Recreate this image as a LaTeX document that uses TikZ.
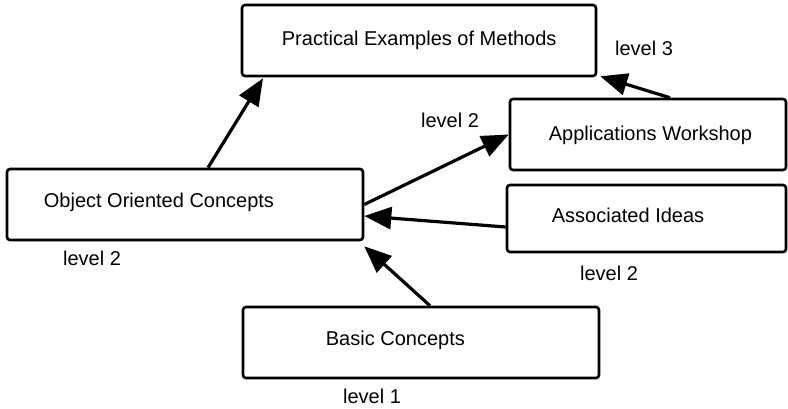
\documentclass[tikz,border=0pt]{standalone}
\usepackage{fontspec}
\setmainfont{Liberation Sans}
\usetikzlibrary{arrows.meta}

\begin{document}
\begin{tikzpicture}[x=1pt,y=-1pt,
  font=\fontsize{20}{24}\selectfont,
  box/.style={draw,rounded corners=3pt,line width=2.6pt,
    minimum height=71pt,inner sep=0pt},
  tag/.style={anchor=west,inner sep=0pt},
  link/.style={line width=3.2pt,-{Triangle[length=27pt,width=22pt]}}]

  \useasboundingbox (0,0) rectangle (788,408);

  \node[box,minimum width=354pt,label={[tag,xshift=41pt]west:Practical Examples of Methods}] (prac) at (419,40.5) {};
  \node[box,minimum width=356pt,label={[tag,xshift=38pt,yshift=2pt]west:Object Oriented Concepts}] (ooc) at (185,204.5) {};
  \node[box,minimum width=276pt,label={[tag,xshift=40pt,yshift=-1pt]west:Applications Workshop}] (app) at (648,134.5) {};
  \node[box,minimum width=279pt,minimum height=67pt,label={[tag,xshift=46pt,yshift=3pt]west:Associated Ideas}] (assoc) at (646.5,218.5) {};
  \node[box,minimum width=356pt,label={[tag,xshift=84pt,yshift=2pt]west:Basic Concepts}] (basic) at (421,342.5) {};

  \node (lvlooc) at (92,258) {level 2};
  \node (lvlapp) at (450,120) {level 2};
  \node (lvlprac) at (644,48) {level 3};
  \node (lvlassoc) at (609,273) {level 2};
  \node (lvlbasic) at (372,396) {level 1};

  \draw[link] ([xshift=23pt]ooc.north) -- ([xshift=-156pt,yshift=-1pt]prac.south);
  \draw[link] (ooc.east) -- (app.west);
  \draw[link] ([yshift=-8.5pt]assoc.west) -- ([yshift=-11.5pt]ooc.east);
  \draw[link] ([xshift=9pt]basic.north) -- ([yshift=-5pt]ooc.south east);
  \draw[link] ([xshift=22pt]app.north) -- ([xshift=3pt,yshift=1pt]prac.south east);
\end{tikzpicture}
\end{document}
